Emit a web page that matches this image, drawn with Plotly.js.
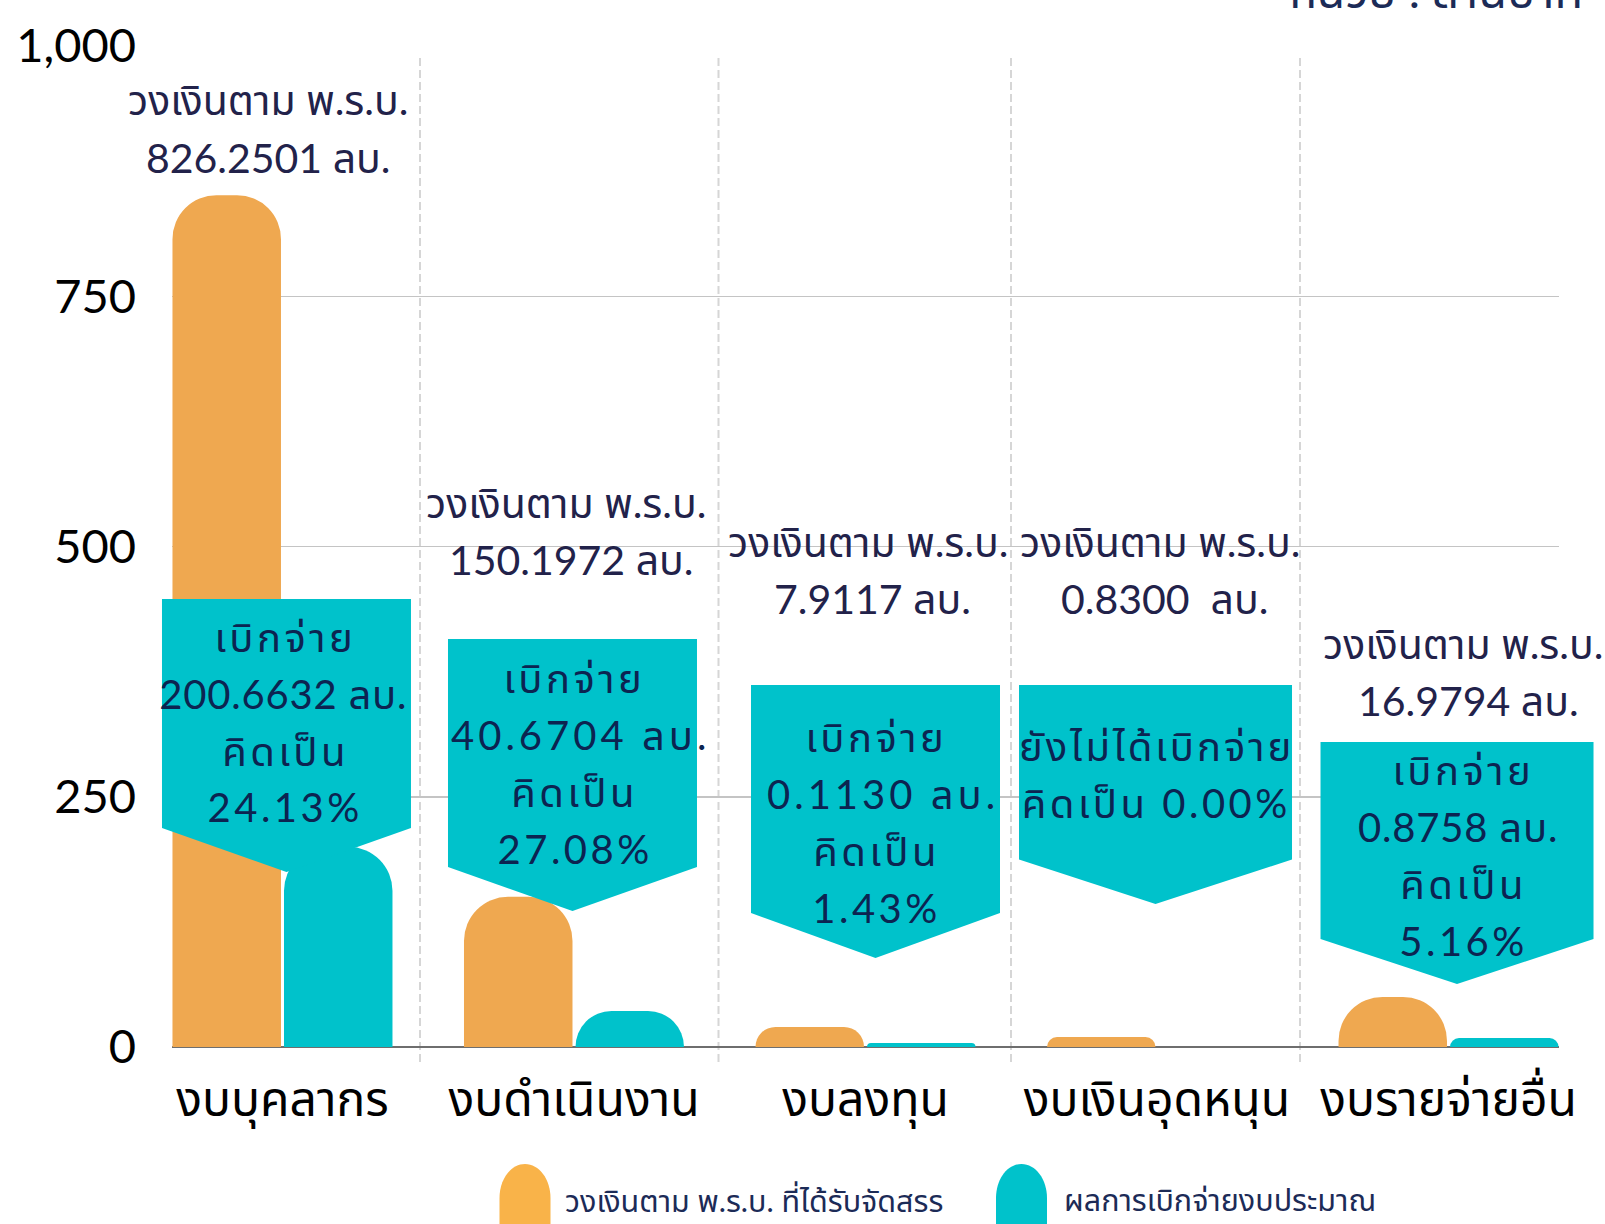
<!DOCTYPE html>
<html><head><meta charset="utf-8">
<script src="https://cdn.plot.ly/plotly-3.0.1.min.js"></script>
<style>html,body{margin:0;padding:0;background:#fff;overflow:hidden}#chart{width:1605px;height:1224px}</style>
</head><body><div id="chart"></div>
<script>
// ---------- data ----------
const categories = ['งบบุคลากร', 'งบดำเนินงาน', 'งบลงทุน', 'งบเงินอุดหนุน', 'งบรายจ่ายอื่น'];
const budgetValues = [851, 150, 20, 10, 50];      // bar heights
const paidValues = [200, 36, 4, 0, 9];
const budgetText = ['826.2501', '150.1972', '7.9117', '0.8300 ', '16.9794'];
const paidText = ['200.6632', '40.6704', '0.1130', '', '0.8758'];
const paidPercent = ['24.13%', '27.08%', '1.43%', '0.00%', '5.16%'];
const seriesNames = ['วงเงินตาม พ.ร.บ. ที่ได้รับจัดสรร', 'ผลการเบิกจ่ายงบประมาณ'];
const unitLabel = 'หน่วย : ล้านบาท';
const yTickVals = [0, 250, 500, 750, 1000];
const yTickText = ['0', '250', '500', '750', '1,000'];

// ---------- geometry / style ----------
const W = 1605, H = 1224, mL = 172, mR = 46, mT = 46, mB = 177;
const xRange = [-0.379, 4.379], yRange = [0, 1000];
const plotW = W - mL - mR, plotH = H - mT - mB;
const pX = px => (px - mL) / plotW;
const pY = py => (H - mB - py) / plotH;
const catPx = i => mL + (i - xRange[0]) / (xRange[1] - xRange[0]) * plotW;

const ORANGE = '#EFA850', TEAL = '#00C2CB';
const FONT = 'Lato, "Noto Sans Thai", "Noto Sans", sans-serif';
const LINE = 57;

const calloutDx = [4, -1.5, 10, -1.5, 8.5];
const calloutHalfW = [124.5, 124.5, 124.5, 136.5, 136.5];
const calloutTop = [599, 639, 685, 685, 742];
const calloutBottom = [828, 867, 913, 859.5, 939];
const calloutTip = [872, 911, 958, 904, 984];
const calloutTextDx = [1, -1, 9.5, -2, 13.5];
const calloutTextCy = [722, 763, 822, 774, 855];
const calloutSpacing = [[3.5, 0.8, 3.5, 3.5], [3.5, 4, 3.5, 3.5], [3.5, 4, 3.5, 3.5], [3, 3.5], [3.5, 0.8, 3.5, 3.5]];
const calloutLineShift = [[0, 0, 0, 0], [0, 6, 0, 0], [0, 6, 0, 0], [0, 0], [0, -4, 0, 0]];
const budgetDx = [-14.5, -8, 2.5, 3, 14];
const budgetLineShift = [[0, 0], [0, 5], [0, 4], [0, 4.5], [0, 6]];
const budgetCy = [128.5, 530.5, 569.5, 569.5, 672];
const dividerX = [420, 718.5, 1011, 1300];

const shapes = [];
const annotations = [];
const spacingByIndex = {};

dividerX.forEach(px => shapes.push({
  type: 'line', xref: 'paper', yref: 'paper', x0: pX(px), x1: pX(px), y0: pY(1062), y1: pY(55),
  line: {color: '#d6d6d6', width: 2, dash: '8px,4px'}, layer: 'below'
}));

function addLines(lines, cx, cy, font, spacing, shifts) {
  const n = lines.length;
  lines.forEach((t, k) => {
    const py = cy + (k - (n - 1) / 2) * LINE;
    if (spacing) spacingByIndex[annotations.length] = spacing[k];
    const xs = (spacing ? spacing[k] / 2 : 0) + (shifts ? shifts[k] : 0);
    annotations.push({xref: 'paper', yref: 'paper', x: pX(cx), y: pY(py), text: t, xshift: xs,
      showarrow: false, xanchor: 'center', yanchor: 'middle', font: font});
  });
}

categories.forEach((c, i) => {
  const cx = catPx(i) + calloutDx[i];
  const x0 = pX(cx - calloutHalfW[i]), x1 = pX(cx + calloutHalfW[i]), xm = pX(cx);
  const yt = pY(calloutTop[i]), yb = pY(calloutBottom[i]), ytip = pY(calloutTip[i]);
  shapes.push({type: 'path', xref: 'paper', yref: 'paper',
    path: `M${x0},${yt} L${x1},${yt} L${x1},${yb} L${xm},${ytip} L${x0},${yb} Z`,
    fillcolor: TEAL, line: {width: 0}, layer: 'above'});
  const calloutFont = {family: FONT, size: 40, color: '#0c2451'};
  const lines = paidText[i] ? ['เบิกจ่าย', paidText[i] + ' ลบ.', 'คิดเป็น', paidPercent[i]]
                            : ['ยังไม่ได้เบิกจ่าย', 'คิดเป็น ' + paidPercent[i]];
  addLines(lines, catPx(i) + calloutTextDx[i], calloutTextCy[i], calloutFont, calloutSpacing[i], calloutLineShift[i]);
  addLines(['วงเงินตาม พ.ร.บ.', budgetText[i] + ' ลบ.'], catPx(i) + budgetDx[i], budgetCy[i],
    {family: FONT, size: 41, color: '#22224a'}, null, budgetLineShift[i]);
});

// legend (drawn manually: tall pill markers)
const legendItems = [{x: 499.5, color: '#F9B349', tx: 563}, {x: 996, color: TEAL, tx: 1061.5}];
legendItems.forEach((it, k) => {
  const w = 51, top = 1164, ry = 34, bot = 1260;
  const x0 = pX(it.x), x1 = pX(it.x + w), xm = pX(it.x + w / 2);
  const k1 = 0.5523;
  const yc = pY(top + ry), ytop = pY(top), yb = pY(bot);
  const cy1 = pY(top + ry - k1 * ry);
  const dx = k1 * (w / 2) / plotW;
  shapes.push({type: 'path', xref: 'paper', yref: 'paper', fillcolor: it.color, line: {width: 0},
    path: `M${x0},${yb} L${x0},${yc} C${x0},${cy1} ${xm - dx},${ytop} ${xm},${ytop} C${xm + dx},${ytop} ${x1},${cy1} ${x1},${yc} L${x1},${yb} Z`});
  annotations.push({xref: 'paper', yref: 'paper', x: pX(it.tx), y: pY(1199), text: seriesNames[k],
    showarrow: false, xanchor: 'left', yanchor: 'middle', font: {family: FONT, size: 30.5, color: '#1c2b57'}});
});

annotations.push({xref: 'paper', yref: 'paper', x: pX(1585), y: pY(20), text: unitLabel,
  showarrow: false, xanchor: 'right', yanchor: 'bottom', font: {family: FONT, size: 47, color: '#1c2b57'}});

const xs = categories.map((c, i) => i);
const traces = [
  {type: 'bar', x: xs, y: budgetValues, name: seriesNames[0], marker: {color: ORANGE, cornerradius: 44}, hoverinfo: 'skip'},
  {type: 'bar', x: xs, y: paidValues, name: seriesNames[1], marker: {color: TEAL, cornerradius: 44}, hoverinfo: 'skip'}
];

const layout = {
  width: W, height: H, margin: {l: mL, r: mR, t: mT, b: mB},
  paper_bgcolor: '#fff', plot_bgcolor: '#fff', showlegend: false,
  barmode: 'group', bargap: 0.235, bargroupgap: 0.027,
  xaxis: {range: xRange, tickvals: xs, ticktext: categories, showgrid: false, zeroline: false, showline: false,
    ticks: '', ticklabelstandoff: 20, tickfont: {family: FONT, size: 48, color: '#000'}, fixedrange: true},
  yaxis: {range: yRange, tickvals: yTickVals, ticktext: yTickText, showgrid: true, gridcolor: '#c4c4c4', gridwidth: 1.5,
    zeroline: true, zerolinecolor: '#6e6e6e', zerolinewidth: 2, ticks: '', ticklabelstandoff: 35,
    tickfont: {family: FONT, size: 47, color: '#000'}, fixedrange: true},
  shapes: shapes, annotations: annotations
};
Plotly.newPlot('chart', traces, layout, {displayModeBar: false, staticPlot: true}).then(() => {
  document.querySelectorAll('#chart g.annotation').forEach(g => {
    const idx = g.getAttribute('data-index');
    if (idx !== null && spacingByIndex[idx] !== undefined) {
      g.querySelectorAll('text').forEach(t => { t.style.letterSpacing = spacingByIndex[idx] + 'px'; });
    }
  });
});
</script></body></html>
